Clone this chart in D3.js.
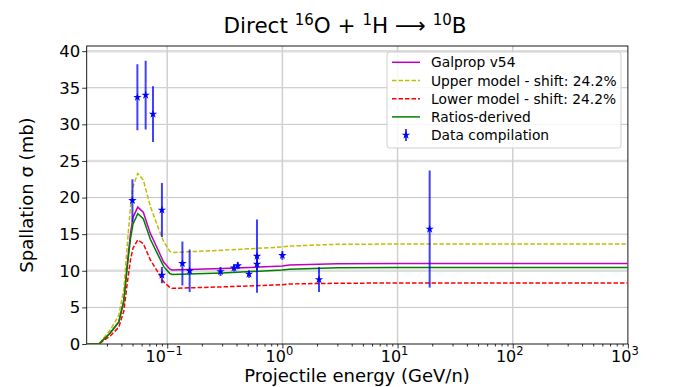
<!DOCTYPE html>
<html>
<head>
<meta charset="utf-8">
<script src="https://cdn.jsdelivr.net/npm/d3@7"></script>
<style>
  body { margin: 0; background: #fff; }
  text { font-family: "DejaVu Sans", sans-serif; fill: #000; }
</style>
</head>
<body>
<div id="chart"></div>
<script>
// model curves
var energy  = [0.02, 0.0255, 0.032, 0.038, 0.042, 0.045, 0.048, 0.0505, 0.0555, 0.062, 0.0714, 0.083, 0.093, 0.105, 0.11, 0.3, 1, 1.15, 3, 10, 100, 1000];
var galprop = [0, 0, 1.5, 3.0, 6.0, 11.0, 15.1, 17.3, 18.7, 18.0, 15.1, 12.9, 11.2, 10.25, 10.1, 10.3, 10.64, 10.78, 10.95, 11.0, 11.0, 11.0];
var upper   = [0, 0, 1.9, 3.9, 7.5, 13.5, 18.8, 21.5, 23.3, 22.4, 18.8, 16.0, 14.0, 12.7, 12.5, 12.8, 13.25, 13.37, 13.62, 13.65, 13.65, 13.65];
var lower   = [0, 0, 1.1, 2.3, 4.5, 8.3, 11.5, 13.1, 14.2, 13.7, 11.5, 9.8, 8.5, 7.75, 7.6, 7.8, 8.1, 8.2, 8.3, 8.33, 8.33, 8.33];
var ratios  = [0, 0, 1.5, 3.0, 5.8, 10.5, 14.4, 16.4, 17.8, 17.1, 14.3, 12.2, 10.6, 9.65, 9.5, 9.7, 10.1, 10.2, 10.4, 10.45, 10.45, 10.45];

// data compilation
var dataE   = [0.0499, 0.0551, 0.065, 0.0753, 0.090, 0.090, 0.1355, 0.1566, 0.29, 0.38, 0.41, 0.513, 0.602, 0.602, 1.0, 2.08, 19];
var dataSig = [19.6, 33.7, 34.0, 31.4, 18.3, 9.4, 11.0, 10.0, 9.9, 10.4, 10.7, 9.55, 12.0, 10.9, 12.1, 8.8, 15.7];
var dataErr = [2.9, 4.5, 4.7, 3.8, 3.7, 1.1, 3.0, 2.9, 0.6, 0.5, 0.5, 0.5, 5.0, 0.8, 0.6, 1.7, 8.0];

var yTicks = [0, 5, 10, 15, 20, 25, 30, 35, 40];
var yBand = [10, 25, 40];
var xDecades = [-1, 0, 1, 2, 3];

var W = 698, H = 387;
var L = 86.7, R = 627.9, T = 46, B = 344;

var svg = d3.select("#chart").append("svg").attr("width", W).attr("height", H);

var x = d3.scaleLog().domain([0.02, 1000]).range([L, R]);
var y = d3.scaleLinear().domain([0, 40.7]).range([B, T]);

svg.append("defs").append("clipPath").attr("id", "clip")
  .append("rect").attr("x", L).attr("y", T).attr("width", R - L).attr("height", B - T);

// grid
var grid = svg.append("g");
grid.selectAll("line.band").data(yBand).enter().append("line")
  .attr("x1", L).attr("x2", R).attr("y1", d => y(d)).attr("y2", d => y(d))
  .attr("stroke", "#dedede").attr("stroke-width", 2.5);
grid.selectAll("line.hy").data(yTicks.filter(d => yBand.indexOf(d) < 0 && d > 0)).enter().append("line")
  .attr("x1", L).attr("x2", R).attr("y1", d => y(d)).attr("y2", d => y(d))
  .attr("stroke", "#c4c4c4").attr("stroke-width", 1);
grid.selectAll("line.vx").data(xDecades.slice(0, 4)).enter().append("line")
  .attr("x1", d => x(Math.pow(10, d))).attr("x2", d => x(Math.pow(10, d)))
  .attr("y1", T).attr("y2", B)
  .attr("stroke", "#d0d0d0").attr("stroke-width", 1.5);

// axes
var xAxis = d3.axisBottom(x).tickValues(xDecades.map(d => Math.pow(10, d))).tickSize(4.5).tickFormat("");
var minor = [];
[0.01, 0.1, 1, 10, 100].forEach(function (b) {
  for (var k = 2; k <= 9; k++) { var v = b * k; if (v > 0.02 && v < 1000) minor.push(v); }
});
var gx = svg.append("g").attr("transform", "translate(0," + B + ")").call(xAxis);
svg.append("g").attr("transform", "translate(0," + B + ")")
  .call(d3.axisBottom(x).tickValues(minor).tickSize(2.5).tickFormat(""));
var gy = svg.append("g").attr("transform", "translate(" + L + ",0)")
  .call(d3.axisLeft(y).tickValues(yTicks).tickSize(4.5).tickPadding(2));
svg.selectAll(".domain").remove();
svg.selectAll(".tick line").attr("stroke", "#000").attr("stroke-width", 0.8);
gy.selectAll("text").style("font-size", "16.5px").style("font-family", "DejaVu Sans");

// x tick labels 10^n
var xl = svg.append("g").selectAll("text").data(xDecades).enter().append("text")
  .attr("x", d => x(Math.pow(10, d)) - 3).attr("y", 362)
  .attr("text-anchor", "middle").style("font-size", "16px");
xl.append("tspan").text("10");
xl.append("tspan").attr("dy", -7).style("font-size", "11.5px")
  .text(d => d < 0 ? "\u2212" + (-d) : String(d));

// frame
svg.append("rect").attr("x", L).attr("y", T).attr("width", R - L).attr("height", B - T)
  .attr("fill", "none").attr("stroke", "#000").attr("stroke-width", 0.9);

// model curves
var line = d3.line().x(d => x(d[0])).y(d => y(d[1]));
var curves = [
  { name: "Galprop v54", vals: galprop, color: "#bf00bf", dash: null },
  { name: "Upper model - shift: 24.2%", vals: upper, color: "#bfbf00", dash: "4.5,2" },
  { name: "Lower model - shift: 24.2%", vals: lower, color: "#ff0000", dash: "4.5,2" },
  { name: "Ratios-derived", vals: ratios, color: "#008000", dash: null }
];
var plot = svg.append("g").attr("clip-path", "url(#clip)");
curves.forEach(function (c) {
  plot.append("path")
    .datum(energy.map((e, i) => [e, c.vals[i]]))
    .attr("d", line).attr("fill", "none")
    .attr("stroke", c.color).attr("stroke-width", 1.5)
    .attr("stroke-dasharray", c.dash);
});

// data points with error bars
var pts = dataE.map((e, i) => ({ e: e, s: dataSig[i], err: dataErr[i] }));
plot.selectAll("line.err").data(pts).enter().append("line")
  .attr("x1", d => x(d.e)).attr("x2", d => x(d.e))
  .attr("y1", d => y(d.s - d.err)).attr("y2", d => y(d.s + d.err))
  .attr("stroke", "#0000ff").attr("stroke-opacity", 0.75).attr("stroke-width", 2);
var star = d3.symbol().type(d3.symbolStar).size(22);
plot.selectAll("path.pt").data(pts).enter().append("path")
  .attr("d", star).attr("transform", d => "translate(" + x(d.e) + "," + y(d.s) + ")")
  .attr("fill", "#0000ff");

// legend
var lg = svg.append("g");
lg.append("rect").attr("x", 387).attr("y", 52).attr("width", 234).attr("height", 96)
  .attr("rx", 3).attr("fill", "#fff").attr("fill-opacity", 0.85)
  .attr("stroke", "#d0d0d0").attr("stroke-width", 1);
var rowY = d3.range(5).map(i => 62.3 + i * 18.2);
curves.forEach(function (c, i) {
  lg.append("line").attr("x1", 392).attr("x2", 420).attr("y1", rowY[i]).attr("y2", rowY[i])
    .attr("stroke", c.color).attr("stroke-width", 1.5).attr("stroke-dasharray", c.dash);
  lg.append("text").attr("x", 431).attr("y", rowY[i] + 5).style("font-size", "13.8px").text(c.name);
});
lg.append("line").attr("x1", 406).attr("x2", 406).attr("y1", rowY[4] - 6).attr("y2", rowY[4] + 6)
  .attr("stroke", "#0000ff").attr("stroke-opacity", 0.75).attr("stroke-width", 2);
lg.append("path").attr("d", star).attr("transform", "translate(406," + rowY[4] + ")").attr("fill", "#0000ff");
lg.append("text").attr("x", 431).attr("y", rowY[4] + 5).style("font-size", "13.8px").text("Data compilation");

// axis labels
svg.append("text").attr("x", 357).attr("y", 382).attr("text-anchor", "middle")
  .style("font-size", "18px").text("Projectile energy (GeV/n)");
svg.append("text").attr("transform", "translate(33," + (T + B) / 2 + ") rotate(-90)")
  .attr("text-anchor", "middle").style("font-size", "18px").text("Spallation \u03c3 (mb)");

// title
var t = svg.append("text").attr("x", 345).attr("y", 33).attr("text-anchor", "middle").style("font-size", "21.5px");
t.append("tspan").text("Direct ");
t.append("tspan").attr("dy", -8).style("font-size", "15px").text("16");
t.append("tspan").attr("dy", 8).text("O + ");
t.append("tspan").attr("dy", -8).style("font-size", "15px").text("1");
t.append("tspan").attr("dy", 8).text("H \u27f6 ");
t.append("tspan").attr("dy", -8).style("font-size", "15px").text("10");
t.append("tspan").attr("dy", 8).text("B");
</script>
</body>
</html>
